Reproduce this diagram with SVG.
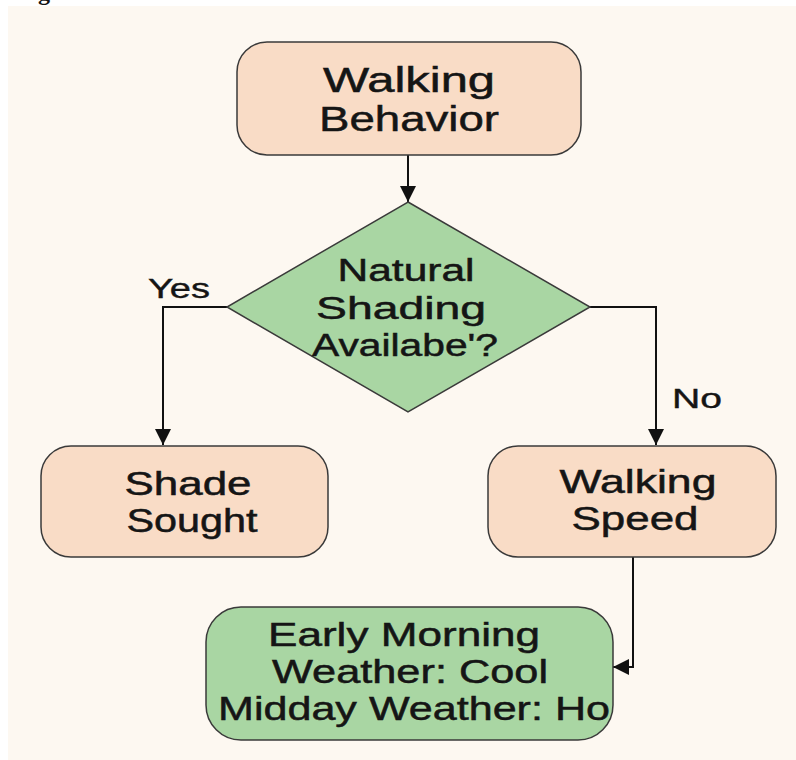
<svg xmlns="http://www.w3.org/2000/svg" width="796" height="760" viewBox="0 0 796 760">
<defs>
<style>
.box{fill:#f9dcc6;stroke:#3a3a3a;stroke-width:1.5}
.dec{fill:#a9d6a3;stroke:#3a3a3a;stroke-width:1.5}
.gbox{fill:#a9d6a3;stroke:#3a3a3a;stroke-width:1.5}
.t{font-family:"Liberation Sans",Arial,sans-serif;fill:#151515;stroke:#151515;stroke-width:0.5;text-anchor:middle}
.lbl{font-family:"Liberation Sans",Arial,sans-serif;fill:#151515;stroke:#151515;stroke-width:0.4}
.edge{fill:none;stroke:#111;stroke-width:2}
</style>
<marker id="ah" viewBox="0 0 16 16" refX="16" refY="8" markerWidth="16" markerHeight="16" markerUnits="userSpaceOnUse" orient="auto">
<path d="M0,0 L16,8 L0,16 Z" fill="#111"/>
</marker>
</defs>
<rect x="0" y="0" width="796" height="760" fill="#ffffff"/>
<rect x="8" y="6" width="788" height="754" fill="#fdf8f1"/>
<text x="38" y="0" font-family="Liberation Serif,serif" font-weight="bold" font-size="24" fill="#111">g</text>

<g id="connectors">
<path class="edge" d="M408,155 L408,202" marker-end="url(#ah)"/>
<path class="edge" d="M227,307 L163,307 L163,445" marker-end="url(#ah)"/>
<path class="edge" d="M590,307 L656,307 L656,445" marker-end="url(#ah)"/>
<path class="edge" d="M633,557 L633,667 L613,667" marker-end="url(#ah)"/>
<text class="lbl" x="148" y="298" font-size="27" textLength="62" lengthAdjust="spacingAndGlyphs">Yes</text>
<text class="lbl" x="672" y="408" font-size="27" textLength="50" lengthAdjust="spacingAndGlyphs">No</text>
</g>

<g id="walking-behavior">
<rect class="box" x="237" y="42" width="344" height="113" rx="30"/>
<text class="t" x="409" y="92" font-size="35" textLength="172" lengthAdjust="spacingAndGlyphs">Walking</text>
<text class="t" x="409" y="131" font-size="35" textLength="180" lengthAdjust="spacingAndGlyphs">Behavior</text>
</g>

<g id="decision">
<polygon class="dec" points="408,202 590,307 408,412 227,307"/>
<text class="t" x="406" y="281" font-size="31" textLength="137" lengthAdjust="spacingAndGlyphs">Natural</text>
<text class="t" x="401" y="319" font-size="31" textLength="170" lengthAdjust="spacingAndGlyphs">Shading</text>
<text class="t" x="405" y="356" font-size="31" textLength="186" lengthAdjust="spacingAndGlyphs">Availabe'?</text>
</g>

<g id="shade-sought">
<rect class="box" x="41" y="446" width="287" height="111" rx="30"/>
<text class="t" x="188" y="495" font-size="33" textLength="127" lengthAdjust="spacingAndGlyphs">Shade</text>
<text class="t" x="192" y="532" font-size="33" textLength="131" lengthAdjust="spacingAndGlyphs">Sought</text>
</g>

<g id="walking-speed">
<rect class="box" x="488" y="446" width="288" height="111" rx="30"/>
<text class="t" x="638" y="493" font-size="33" textLength="157" lengthAdjust="spacingAndGlyphs">Walking</text>
<text class="t" x="635" y="530" font-size="33" textLength="127" lengthAdjust="spacingAndGlyphs">Speed</text>
</g>

<g id="weather">
<rect class="gbox" x="206" y="607" width="407" height="133" rx="35"/>
<text class="t" x="404" y="646" font-size="33" textLength="272" lengthAdjust="spacingAndGlyphs">Early Morning</text>
<text class="t" x="410" y="683" font-size="33" textLength="276" lengthAdjust="spacingAndGlyphs">Weather: Cool</text>
<text class="t" x="414" y="720" font-size="33" textLength="392" lengthAdjust="spacingAndGlyphs">Midday Weather: Ho</text>
</g>
</svg>
